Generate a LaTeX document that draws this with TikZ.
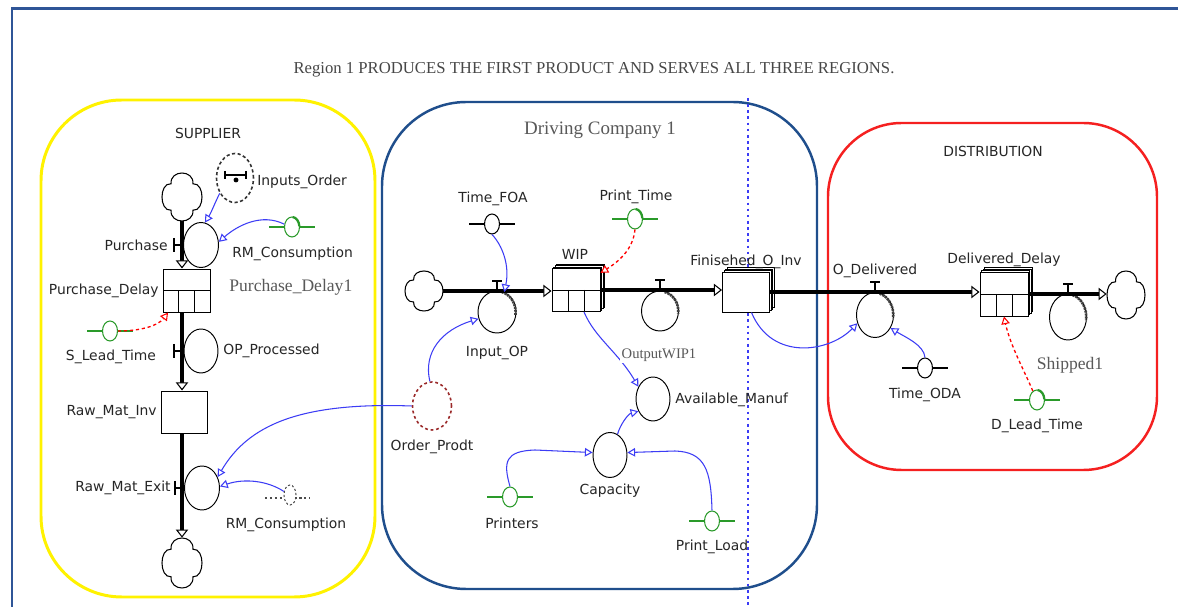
\documentclass[tikz,border=0pt]{standalone}
\usepackage{fontspec}
\setmainfont{DejaVu Sans}
\newfontfamily\serfont{Liberation Serif}
\usetikzlibrary{arrows.meta,shapes.geometric}

\newlength\upx
\setlength\upx{0.02cm}

\definecolor{frameblue}{HTML}{2F5597}
\definecolor{dcblue}{HTML}{1F4E8C}
\definecolor{linkblue}{HTML}{3C3CF5}
\definecolor{constgreen}{HTML}{2A9A2A}
\definecolor{regred}{HTML}{F52020}
\definecolor{regyellow}{HTML}{FFF200}
\definecolor{ordred}{HTML}{9B2A2A}

\tikzset{
  lbl/.style={font=\fontsize{7.9}{9}\selectfont, text=black!85, inner sep=0pt},
  serlbl/.style={font=\serfont\fontsize{10}{12}\selectfont, text=black!65, inner sep=0pt},
  valve/.style={ellipse, draw=black, line width=0.55pt, fill=white, inner sep=0pt},
  constv/.style={ellipse, line width=0.6pt, fill=white, inner sep=0pt,
    minimum width=15*\upx, minimum height=20*\upx},
  stockbox/.style={rectangle, draw=black, line width=0.55pt, fill=white, inner sep=0pt},
  cellline/.style={line width=0.55pt},
  pipe/.style={line width=2.2pt, -{Triangle[fill=white, length=4.6pt, width=7pt, line width=0.6pt]}},
  vmark/.style={line width=0.7pt},
  link/.style={draw=linkblue, line width=0.6pt,
    -{Triangle[fill=white, length=4.4pt, width=4.8pt, line width=0.6pt]}},
  dlink/.style={draw=red, line width=0.75pt, dash pattern=on 1.8pt off 1.6pt,
    -{Triangle[fill=white, length=4.4pt, width=4.8pt, line width=0.6pt]}},
  hatch/.style={line width=1.5pt, black!75, dash pattern=on 1.2pt off 0.5pt},
  cloudline/.style={line width=0.6pt, fill=white},
}

% source / sink cloud: name, cx, cy, half width, half height
\newcommand\sdcloud[5]{%
  \node[minimum width=2*#4*\upx, minimum height=2*#5*\upx, inner sep=0pt] (#1) at (#2,#3) {};
  \draw[cloudline] (#2-0.55*#4,#3-0.55*#5)
    .. controls (#2-0.6*#4,#3-1.15*#5) and (#2+0.6*#4,#3-1.15*#5) .. (#2+0.55*#4,#3-0.55*#5)
    .. controls (#2+1.15*#4,#3-0.6*#5) and (#2+1.15*#4,#3+0.6*#5) .. (#2+0.55*#4,#3+0.55*#5)
    .. controls (#2+0.6*#4,#3+1.15*#5) and (#2-0.6*#4,#3+1.15*#5) .. (#2-0.55*#4,#3+0.55*#5)
    .. controls (#2-1.15*#4,#3+0.6*#5) and (#2-1.15*#4,#3-0.6*#5) .. cycle;}

% conveyor cells: cx, cy, w, h
\newcommand\sdcells[4]{%
  \draw[cellline] (#1-#3/2,#2) -- (#1+#3/2,#2)
    (#1-#3/6,#2) -- (#1-#3/6,#2+#4/2)
    (#1+#3/6,#2) -- (#1+#3/6,#2+#4/2);}

% stacked layers behind an arrayed stock: cx, cy, w, h
\newcommand\sdstackback[4]{%
  \foreach \k in {3,2,1}{%
    \draw[line width=0.4pt, fill=white] (#1-#3/2+1.6*\k, #2-#4/2-1.5*\k)
      rectangle (#1+#3/2+1.6*\k, #2+#4/2-1.5*\k);}}

% constant with its bar: name, cx, cy, colour
\newcommand\sdconst[4]{%
  \draw[#4, line width=0.6pt] (#2-23,#3) -- (#2+23,#3);
  \node[constv, draw=#4] (#1) at (#2,#3) {};}

% heavy arc on a constant: name, colour
\newcommand\sdghost[2]{%
  \draw[#2, line width=1.3pt] ([shift={(85:4.2pt and 5.7pt)}]#1.center)
    arc[start angle=85, end angle=5, x radius=4.2pt, y radius=5.7pt];}

% shaded arc on a valve: name, rx, ry (pt)
\newcommand\sdhatch[3]{%
  \draw[hatch] ([shift={(75:#2pt and #3pt)}]#1.center)
    arc[start angle=75, end angle=-8, x radius=#2pt, y radius=#3pt];}

\begin{document}
\begin{tikzpicture}[x=0.02cm, y=-0.02cm]
\useasboundingbox (0,0) rectangle (1178,607);
\fill[white] (0,0) rectangle (1178,607);

% page frame
\draw[frameblue, line width=1.7pt] (12,612) -- (12,9) -- (1182,9);

% regions
\draw[regyellow, line width=1.7pt, rounded corners=46pt] (41,100) rectangle (375,597);
\draw[dcblue, line width=1.4pt, rounded corners=48pt] (382,102) rectangle (817,589);
\draw[regred, line width=1.4pt, rounded corners=42pt] (828,123) rectangle (1157,470);
\draw[linkblue, line width=0.8pt, dash pattern=on 1.5pt off 2pt] (748,98) -- (748,607);

% headings
\node[font=\serfont\fontsize{9.5}{11}\selectfont, text=black!72, inner sep=0pt] (title) at (594,70)
  {Region 1 PRODUCES THE FIRST PRODUCT AND SERVES ALL THREE REGIONS.};
\node[lbl] (supT) at (208,133) {SUPPLIER};
\node[serlbl, font=\serfont\fontsize{10.8}{13}\selectfont] (dcT) at (600,130) {Driving Company 1};
\node[lbl] (disT) at (993,151) {DISTRIBUTION};

% ---------------- supplier chain ----------------
\sdcloud{cs1}{182}{197}{20}{24}
\sdcloud{cs2}{182}{563}{20}{25}
\node[valve, minimum width=35*\upx, minimum height=45*\upx] (pv) at (201,245) {};
\node[stockbox, minimum width=47*\upx, minimum height=43*\upx] (pd) at (186.5,290.5) {};
\sdcells{186.5}{290.5}{47}{43}
\node[valve, minimum width=34*\upx, minimum height=44*\upx] (opv) at (201,351) {};
\node[stockbox, minimum width=46*\upx, minimum height=42*\upx] (rmi) at (184,412) {};
\node[valve, minimum width=35*\upx, minimum height=44*\upx] (rme) at (202,488) {};

\draw[pipe] (cs1.south) -- (cs1.south |- pd.north);
\draw[pipe] (cs1 |- pd.south) -- (cs1 |- rmi.north);
\draw[pipe] (cs1 |- rmi.south) -- (cs2.north);
\draw[vmark] (cs1 |- pv) -- ++(-8,0) ++(0,-7) -- ++(0,14);
\draw[vmark] (cs1 |- opv) -- ++(-8,0) ++(0,-7) -- ++(0,14);
\draw[vmark] (cs1 |- rme) -- ++(-7,0) ++(0,-7) -- ++(0,14);

\node[valve, draw=black!80, dash pattern=on 1.8pt off 1.4pt, line width=0.9pt,
  minimum width=37*\upx, minimum height=49*\upx] (io) at (235,178) {};
\draw[line width=0.8pt] (io.center) ++(-10,-3) -- ++(21,0) ++(0,-4) -- ++(0,8)
  (io.center) ++(-10,-7) -- ++(0,8);
\fill (io.center) ++(1,2) circle[radius=1.4pt];

\sdconst{rm1}{292}{227}{constgreen}
\sdghost{rm1}{constgreen}
\sdconst{slt}{110}{331}{constgreen}
\draw[black!70, line width=0.6pt, dash pattern=on 1.2pt off 1.6pt] (265,498) -- (310,498);
\node[constv, draw=black!70, dash pattern=on 1.2pt off 1.2pt, minimum width=12*\upx,
  minimum height=20*\upx] (rm2) at (290,495) {};

\draw[link] (io.225) .. controls (214,205) and (211,213) .. (pv.80);
\draw[link] (rm1.160) .. controls (262,213) and (238,225) .. (pv.10);
\draw[dlink] (slt.east) .. controls (140,331) and (158,326) .. (pd.-130);
\draw[link] (rm2.150) .. controls (268,481) and (245,478) .. (rme.5);

\node[lbl, anchor=east] (pvL) at (168,245) {Purchase};
\node[lbl, anchor=east] (pdL) at (159,291) {Purchase\_Delay};
\node[serlbl, anchor=west] (pd1L) at (229,287) {Purchase\_Delay1};
\node[lbl, anchor=west] (rm1L) at (232,254) {RM\_Consumption};
\node[lbl, anchor=west] (ioL) at (257,182) {Inputs\_Order};
\node[lbl] (sltL) at (111,357) {S\_Lead\_Time};
\node[lbl, anchor=west] (opvL) at (223,351) {OP\_Processed};
\node[lbl, anchor=east] (rmiL) at (157,412) {Raw\_Mat\_Inv};
\node[lbl, anchor=east] (rmeL) at (171,488) {Raw\_Mat\_Exit};
\node[lbl] (rm2L) at (286,525) {RM\_Consumption};

% ---------------- production chain ----------------
\sdcloud{cd1}{424}{291}{19}{20}
\node[valve, minimum width=38*\upx, minimum height=42*\upx] (iop) at (497,312) {};
\sdstackback{576}{290}{48}{43}
\node[stockbox, minimum width=48*\upx, minimum height=43*\upx] (wip) at (576,290) {};
\sdcells{576}{290}{48}{43}
\node[valve, minimum width=37*\upx, minimum height=40*\upx] (ow) at (660,311) {};
\sdstackback{746}{292}{47}{40}
\node[stockbox, minimum width=47*\upx, minimum height=40*\upx] (fin) at (746,292) {};
\sdhatch{iop}{10.6}{11.8}
\sdhatch{ow}{10.4}{11.2}

\node[valve, draw=ordred, dash pattern=on 1.6pt off 1.6pt, line width=0.9pt,
  minimum width=39*\upx, minimum height=48*\upx] (op) at (432,406) {};
\node[valve, minimum width=34*\upx, minimum height=44*\upx] (am) at (653,399) {};
\node[valve, minimum width=34*\upx, minimum height=45*\upx] (cap) at (610,455) {};
\sdconst{tfoa}{492}{224}{black}
\sdconst{pt}{635}{219}{constgreen}
\sdghost{pt}{constgreen}
\sdconst{prn}{510}{497}{constgreen}
\sdconst{pl}{712}{521}{constgreen}

% ---------------- distribution chain ----------------
\node[valve, minimum width=37*\upx, minimum height=45*\upx] (od) at (875,315) {};
\sdstackback{1004}{294}{48}{44}
\node[stockbox, minimum width=48*\upx, minimum height=44*\upx] (dd) at (1004,294) {};
\sdcells{1004}{294}{48}{44}
\node[valve, minimum width=37*\upx, minimum height=46*\upx] (sh) at (1068,317) {};
\sdcloud{cd2}{1126}{295}{19}{24}
\sdhatch{od}{10.4}{12.6}
\sdhatch{sh}{10.4}{12.9}
\sdconst{toda}{925}{368}{black}
\sdconst{dlt}{1037}{400}{constgreen}
\sdghost{dlt}{constgreen}

% main material line
\draw[pipe] (cd1.east) -- (cd1.east -| wip.west);
\draw[pipe] (wip.east) -- (wip.east -| fin.west);
\draw[pipe] (fin.east) -- (fin.east -| dd.west);
\draw[pipe] (dd.east) -- (dd.east -| cd2.west);
\draw[vmark] (iop |- cd1) -- ++(0,-10) ++(-5,0) -- ++(10,0);
\draw[vmark] (ow |- wip) -- ++(0,-10) ++(-5,0) -- ++(10,0);
\draw[vmark] (od |- fin) -- ++(0,-10) ++(-5,0) -- ++(10,0);
\draw[vmark] (sh |- dd) -- ++(0,-10) ++(-5,0) -- ++(10,0);

% information links
\draw[link] (op.west) .. controls (300,402) and (248,425) .. (rme.35);
\draw[link] (op.95) .. controls (423,352) and (442,330) .. (iop.200);
\draw[link] (tfoa.south) .. controls (502,245) and (510,265) .. (iop.70);
\draw[dlink] (pt.south) .. controls (633,250) and (618,262) .. (wip.35);
\draw[link] (wip.-70) .. controls (595,338) and (618,352) .. (am.140);
\draw[link] (cap.70) .. controls (620,425) and (628,414) .. (am.220);
\draw[link] (prn.north) .. controls (503,462) and (505,451) .. (535,450) -- (cap.172);
\draw[link] (pl.north) .. controls (711,470) and (705,452) .. (675,451) -- (cap.8);
\draw[link] (fin.-75) .. controls (772,362) and (830,352) .. (od.205);
\draw[link] (toda.north) .. controls (924,345) and (905,337) .. (od.-40);
\draw[dlink] (dlt.115) .. controls (1025,372) and (1010,345) .. (dd.south);

% labels
\node[lbl] (tfoaL) at (493,199) {Time\_FOA};
\node[lbl] (ptL) at (636,197) {Print\_Time};
\node[lbl] (wipL) at (575,254) {WIP};
\node[lbl] (finL) at (746,262) {Finisehed\_O\_Inv};
\node[lbl] (iopL) at (497,353) {Input\_OP};
\node[serlbl, font=\serfont\fontsize{8.3}{10}\selectfont, fill=white, inner sep=1pt] (owL) at (659,355) {OutputWIP1};
\node[lbl, anchor=west] (amL) at (675,400) {Available\_Manuf};
\node[lbl] (opL) at (432,447) {Order\_Prodt};
\node[lbl] (capL) at (610,491) {Capacity};
\node[lbl] (prnL) at (512,523) {Printers};
\node[lbl] (plL) at (712,547) {Print\_Load};
\node[lbl] (odL) at (875,271) {O\_Delivered};
\node[lbl] (ddL) at (1004,260) {Delivered\_Delay};
\node[serlbl] (shL) at (1070,365) {Shipped1};
\node[lbl] (todaL) at (925,395) {Time\_ODA};
\node[lbl] (dltL) at (1037,426) {D\_Lead\_Time};
\end{tikzpicture}
\end{document}
